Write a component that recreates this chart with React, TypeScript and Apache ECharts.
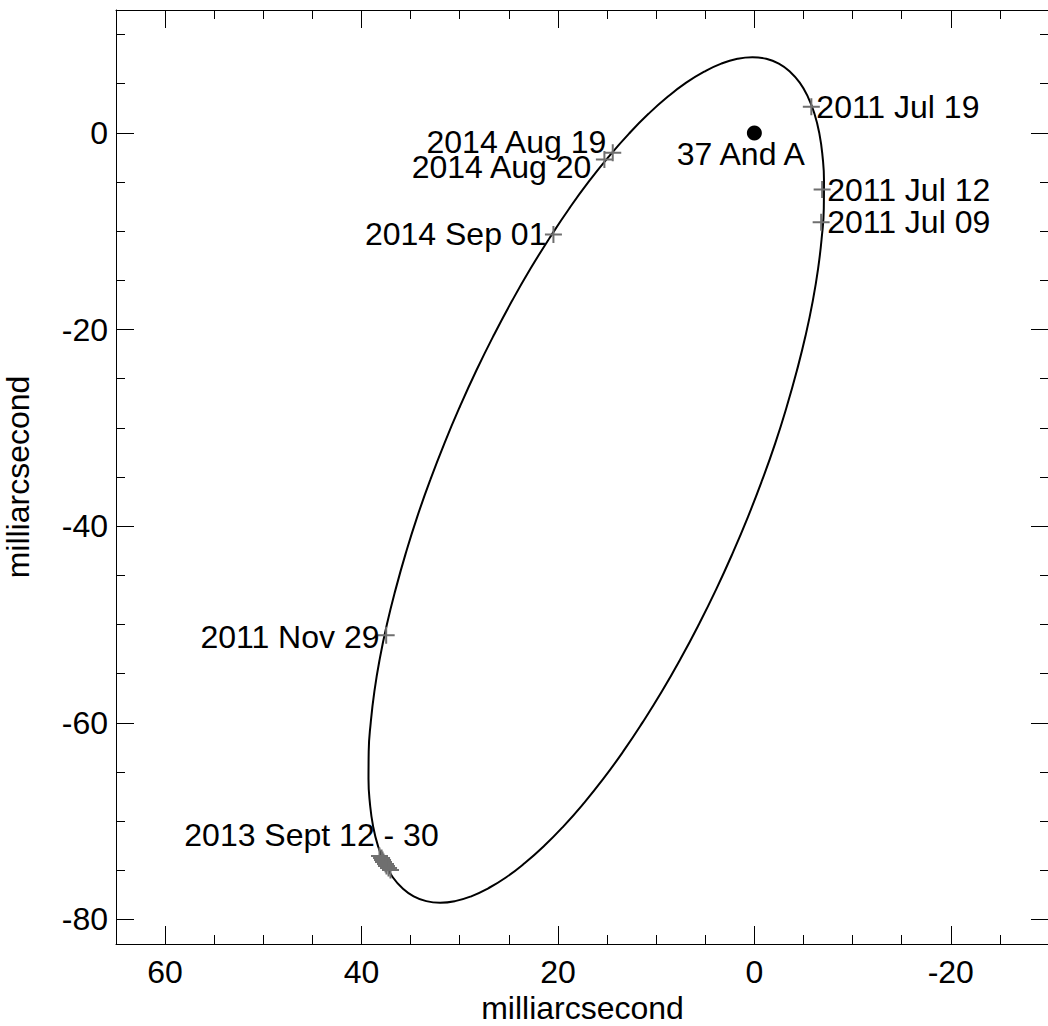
import React, { useEffect, useRef } from "react";
import * as echarts from "echarts";

// ---- axis ticks ----
const xMajorTicks = [60, 40, 20, 0, -20];
const xMinorTicks = [55, 50, 45, 35, 30, 25, 15, 10, 5, -5, -10, -15, -25];
const yMajorTicks = [0, -20, -40, -60, -80];
const yMinorTicks = [10, 5, -5, -10, -15, -25, -30, -35, -45, -50, -55, -65, -70, -75];

// ---- orbit curve (milliarcseconds) ----
const orbitX = [
  33.0, 31.55, 29.98, 28.31, 26.54, 24.7, 22.79, 20.82, 18.83, 16.81,
  14.78, 12.76, 10.78, 8.83, 6.94, 5.11, 3.37, 1.73, 0.2, -1.21,
  -2.49, -3.63, -4.62, -5.45, -6.12, -6.62, -6.94, -7.09, -7.07, -6.86,
  -6.49, -5.94, -5.22, -4.33, -3.3, -2.13, -0.8, 0.65, 2.22, 3.89,
  5.66, 7.5, 9.41, 11.38, 13.37, 15.39, 17.42, 19.44, 21.42, 23.37,
  25.26, 27.09, 28.83, 30.47, 32.0, 33.41, 34.69, 35.83, 36.82, 37.65,
  38.32, 38.82, 39.14, 39.29, 39.27, 39.06, 38.69, 38.14, 37.42, 36.53,
  35.5, 34.33, 33.0,
];
const orbitY = [
  -35.3, -31.55, -27.83, -24.17, -20.59, -17.13, -13.8, -10.64, -7.66, -4.89,
  -2.36, -0.07, 1.94, 3.67, 5.11, 6.23, 7.05, 7.54, 7.7, 7.54,
  7.05, 6.23, 5.11, 3.67, 1.94, -0.07, -2.36, -4.89, -7.66, -10.64,
  -13.8, -17.13, -20.59, -24.17, -27.83, -31.55, -35.3, -39.05, -42.77, -46.43,
  -50.01, -53.47, -56.8, -59.96, -62.94, -65.71, -68.24, -70.53, -72.54, -74.27,
  -75.71, -76.83, -77.65, -78.14, -78.3, -78.14, -77.65, -76.83, -75.71, -74.27,
  -72.54, -70.53, -68.24, -65.71, -62.94, -59.96, -56.8, -53.47, -50.01, -46.43,
  -42.77, -39.05, -35.3,
];

// ---- labelled observations ----
const obsLabels = ["2011 Jul 19", "2011 Jul 12", "2011 Jul 09", "2014 Aug 19", "2014 Aug 20", "2014 Sep 01", "2011 Nov 29"];
const obsX = [-5.8, -6.9, -6.8, 14.42, 15.27, 20.46, 37.49];
const obsY = [2.67, -5.76, -9.08, -2.03, -2.71, -10.34, -51.09];

// ---- 2013 Sept 12 - 30 cluster ----
const clusterLabel = "2013 Sept 12 - 30";
const clusterX = [38.17, 37.96, 37.86, 37.76, 37.56, 37.46, 37.25, 37.05];
const clusterY = [-73.55, -73.75, -73.95, -74.16, -74.36, -74.56, -74.77, -74.97];

// ---- primary star ----
const starName = "37 And A";
const starX = [0];
const starY = [0];

const FONT = "'Liberation Sans', Arial, Helvetica, sans-serif";
const FS = 32;
const PLUS = "path://M7.5,0H9.5V7.5H17V9.5H9.5V17H7.5V9.5H0V7.5H7.5Z";
const GRAY = "#6f6f6f";

// label placement for each observation (position, distance, offset)
const obsLabelPlace: any[] = [
  { position: "right", distance: -3.5, offset: [0, 0] },
  { position: "right", distance: -3.5, offset: [0, 0] },
  { position: "right", distance: -2.5, offset: [0, 0] },
  { position: "left", distance: -2, offset: [0, -11] },
  { position: "left", distance: 4.5, offset: [0, 7.5] },
  { position: "left", distance: -1.5, offset: [0, -0.5] },
  { position: "left", distance: -1.8, offset: [0, 1.5] },
];

function xAxisDef(position: string, ticks: number[], len: number, withLabels: boolean, showLine: boolean, name?: string) {
  return {
    type: "value",
    gridIndex: 0,
    position,
    min: -30,
    max: 65,
    inverse: true,
    name: name || "",
    nameLocation: "middle",
    nameGap: 52,
    nameMoveOverlap: false,
    nameTextStyle: { fontFamily: FONT, fontSize: FS, color: "#000", lineHeight: 24 },
    splitLine: { show: false },
    axisLine: { show: showLine, onZero: false, lineStyle: { color: "#000", width: 1 } },
    axisTick: { show: true, inside: true, length: len, customValues: ticks, lineStyle: { color: "#000", width: 1 } },
    axisLabel: withLabels
      ? { show: true, customValues: ticks, margin: 16, lineHeight: 24, fontFamily: FONT, fontSize: FS, color: "#000" }
      : { show: false },
  };
}

function yAxisDef(position: string, ticks: number[], len: number, withLabels: boolean, showLine: boolean, name?: string) {
  return {
    type: "value",
    gridIndex: 0,
    position,
    min: -82.5,
    max: 12.5,
    name: name || "",
    nameLocation: "middle",
    nameGap: 82,
    nameMoveOverlap: false,
    nameTextStyle: { fontFamily: FONT, fontSize: FS, color: "#000" },
    splitLine: { show: false },
    axisLine: { show: showLine, onZero: false, lineStyle: { color: "#000", width: 1 } },
    axisTick: { show: true, inside: true, length: len, customValues: ticks, lineStyle: { color: "#000", width: 1 } },
    axisLabel: withLabels
      ? { show: true, customValues: ticks, margin: 8, fontFamily: FONT, fontSize: FS, color: "#000" }
      : { show: false },
  };
}

export default function App() {
  const ref = useRef<HTMLDivElement>(null);
  useEffect(() => {
    if (!ref.current) return;
    const chart = echarts.init(ref.current, undefined, { renderer: "svg" });

    const obsData = obsLabels.map((t, i) => ({
      value: [obsX[i], obsY[i]],
      label: {
        show: true,
        formatter: t,
        position: obsLabelPlace[i].position,
        distance: obsLabelPlace[i].distance,
        offset: obsLabelPlace[i].offset,
        fontFamily: FONT,
        fontSize: FS,
        color: "#000",
      },
    }));

    const clusterData = clusterX.map((x, i) => ({
      value: [x, clusterY[i]],
      label:
        i === 0
          ? { show: true, formatter: clusterLabel, position: "inside", offset: [-68, -21], fontFamily: FONT, fontSize: FS, color: "#000" }
          : { show: false },
    }));

    chart.setOption({
      animation: false,
      backgroundColor: "#fff",
      grid: { left: 116, top: 10, width: 933, height: 934, containLabel: false, outerBoundsMode: "none" },
      xAxis: [
        xAxisDef("bottom", xMajorTicks, 18, true, true, "milliarcsecond"),
        xAxisDef("bottom", xMinorTicks, 9, false, false),
        xAxisDef("top", xMajorTicks, 18, false, true),
        xAxisDef("top", xMinorTicks, 9, false, false),
      ],
      yAxis: [
        yAxisDef("left", yMajorTicks, 18, true, true, "milliarcsecond"),
        yAxisDef("left", yMinorTicks, 9, false, false),
        yAxisDef("right", yMajorTicks, 18, false, true),
        yAxisDef("right", yMinorTicks, 9, false, false),
      ],
      series: [
        {
          name: "orbit",
          type: "line",
          xAxisIndex: 0,
          yAxisIndex: 0,
          data: orbitX.map((x, i) => [x, orbitY[i]]),
          smooth: 0.5,
          showSymbol: false,
          symbol: "none",
          lineStyle: { color: "#000", width: 2 },
          silent: true,
          z: 2,
        },
        {
          name: "observations",
          type: "scatter",
          xAxisIndex: 0,
          yAxisIndex: 0,
          symbol: PLUS,
          symbolSize: 17,
          itemStyle: { color: GRAY, opacity: 1 },
          data: [...obsData, ...clusterData],
          z: 3,
        },
        {
          name: "star",
          type: "scatter",
          xAxisIndex: 0,
          yAxisIndex: 0,
          symbol: "circle",
          symbolSize: 15,
          itemStyle: { color: "#000", opacity: 1 },
          data: starX.map((x, i) => ({
            value: [x, starY[i]],
            label: { show: true, formatter: starName, position: "inside", offset: [-13.5, 21], fontFamily: FONT, fontSize: FS, color: "#000" },
          })),
          z: 4,
        },
      ],
    });
    return () => chart.dispose();
  }, []);
  return <div ref={ref} style={{ position: "fixed", left: 0, top: 0, width: 1048, height: 1026, background: "#fff" }} />;
}
